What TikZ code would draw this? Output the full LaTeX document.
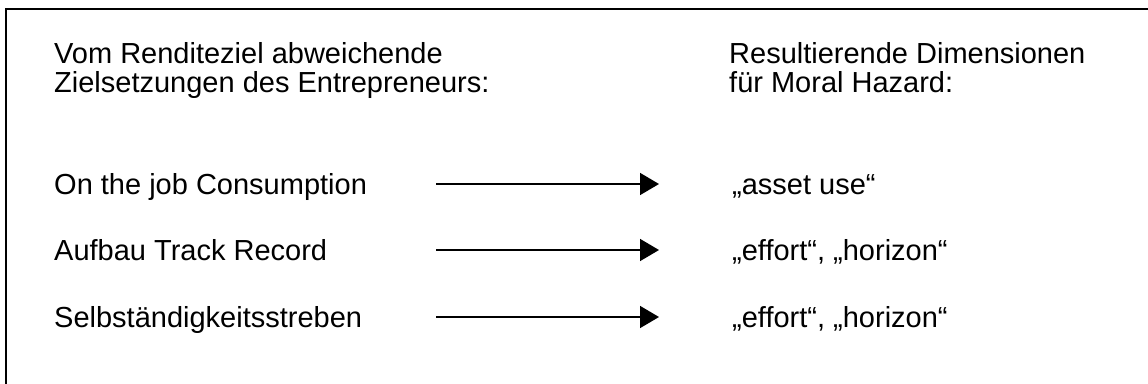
\documentclass[tikz,border=0pt]{standalone}
\usepackage{fontspec}
\setmainfont{Liberation Sans}
\usetikzlibrary{arrows.meta}
\begin{document}
\begin{tikzpicture}[x=1pt,y=-1pt,
  txt/.style={anchor=base west,inner sep=0pt,font=\fontsize{29}{33}\selectfont},
  link/.style={line width=1.6pt,-{Triangle[length=19pt,width=22pt]}},
  frame/.style={line width=2pt,line cap=rect}]
\useasboundingbox (0,0) rectangle (1148,383);
\draw[frame] (6,400) -- (6,9) -- (1160,9);
% headers
\node[txt] (h1a) at (54,63) {Vom Renditeziel abweichende};
\node[txt] (h1b) at (54,92) {Zielsetzungen des Entrepreneurs:};
\node[txt] (h2a) at (729,63) {Resultierende Dimensionen};
\node[txt] (h2b) at (729,92) {für Moral Hazard:};
% rows
\node[txt] (l1) at (54,194) {On the job Consumption};
\node[txt] (l2) at (54,260) {Aufbau Track Record};
\node[txt] (l3) at (54,327) {Selbständigkeitsstreben};
\node[txt] (r1) at (732,194) {„asset use“};
\node[txt] (r2) at (732,260) {„effort“, „horizon“};
\node[txt] (r3) at (732,327) {„effort“, „horizon“};
\coordinate (s1) at (436,184); \coordinate (e1) at (659,184);
\coordinate (s2) at (436,250); \coordinate (e2) at (659,250);
\coordinate (s3) at (436,317); \coordinate (e3) at (659,317);
\draw[link] (s1) -- (e1);
\draw[link] (s2) -- (e2);
\draw[link] (s3) -- (e3);
\end{tikzpicture}
\end{document}
